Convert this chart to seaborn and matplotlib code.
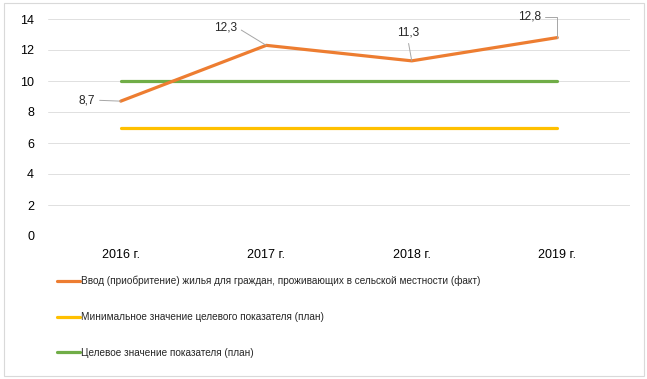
import pandas as pd
import matplotlib.pyplot as plt
import seaborn as sns
from matplotlib.patches import Rectangle

years = ['2016 г.', '2017 г.', '2018 г.', '2019 г.']
fact = [8.7, 12.3, 11.3, 12.8]
min_plan = [7, 7, 7, 7]
target_plan = [10, 10, 10, 10]

names = ['Ввод (приобритение) жилья для граждан, проживающих в сельской местности (факт)',
         'Минимальное значение целевого показателя (план)',
         'Целевое значение показателя (план)']
colors = ['#ED7D31', '#FFC000', '#70AD47']

df = pd.DataFrame({
    'year': years * 3,
    'x': list(range(4)) * 3,
    'value': fact + min_plan + target_plan,
    'series': [names[0]] * 4 + [names[1]] * 4 + [names[2]] * 4,
})

sns.set_style('white')
plt.rcParams['font.family'] = ['Liberation Sans', 'DejaVu Sans']

fig = plt.figure(figsize=(6.47, 3.79), dpi=100)
ax = fig.add_axes([48 / 647, 1 - 236 / 379, 582 / 647, 217 / 379])

# target and minimum first, fact line on top
for n in [names[2], names[1], names[0]]:
    sub = df[df['series'] == n]
    sns.lineplot(data=sub, x='x', y='value', color=colors[names.index(n)],
                 linewidth=2.3, ax=ax, legend=False)

ax.set_xlim(-0.5, 3.5)
ax.set_ylim(0, 14)
ax.set_yticks(range(0, 15, 2))
ax.set_xticks(range(4))
ax.set_xticklabels(years)
ax.set_xlabel('')
ax.set_ylabel('')
ax.grid(axis='y', color='#E0E0E0', linewidth=0.7)
ax.set_axisbelow(True)
for s in ax.spines.values():
    s.set_visible(False)
ax.tick_params(axis='both', labelsize=9, length=0, colors='#000000')
ax.tick_params(axis='y', pad=10)
ax.tick_params(axis='x', pad=9)

# data labels with leader lines (offsets in px, converted to points)
offsets_px = [(-34, 1), (-41, 18), (-4, 28), (-28, 21)]
relpos = [(1, 0.5), (1, 0.5), (0.5, 0), (1, 0.5)]
conn = ['arc3', 'arc3', 'arc3', 'angle,angleA=0,angleB=90,rad=0']
for i, v in enumerate(fact):
    dx, dy = offsets_px[i]
    ax.annotate(f'{v:.1f}'.replace('.', ','), xy=(i, v), xytext=(dx * 0.72, dy * 0.72),
                textcoords='offset points', fontsize=8.6, ha='center', va='center',
                arrowprops=dict(arrowstyle='-', color='#A6A6A6', lw=0.7,
                                relpos=relpos[i], shrinkA=1, shrinkB=0,
                                connectionstyle=conn[i]))

handles = [plt.Line2D([0], [0], color=c, lw=2.3) for c in colors]
fig.legend(handles, names, loc='upper left', bbox_to_anchor=(53 / 647, 1 - 272 / 379),
           frameon=False, fontsize=7.2, handlelength=2.3, handletextpad=0.1,
           labelspacing=2.55, borderaxespad=0)

fig.patches.append(Rectangle((4 / 647, 3 / 379), 640 / 647, 373 / 379, transform=fig.transFigure,
                             fill=False, edgecolor='#D9D9D9', linewidth=0.8))

fig.savefig('out.png', dpi=100)
